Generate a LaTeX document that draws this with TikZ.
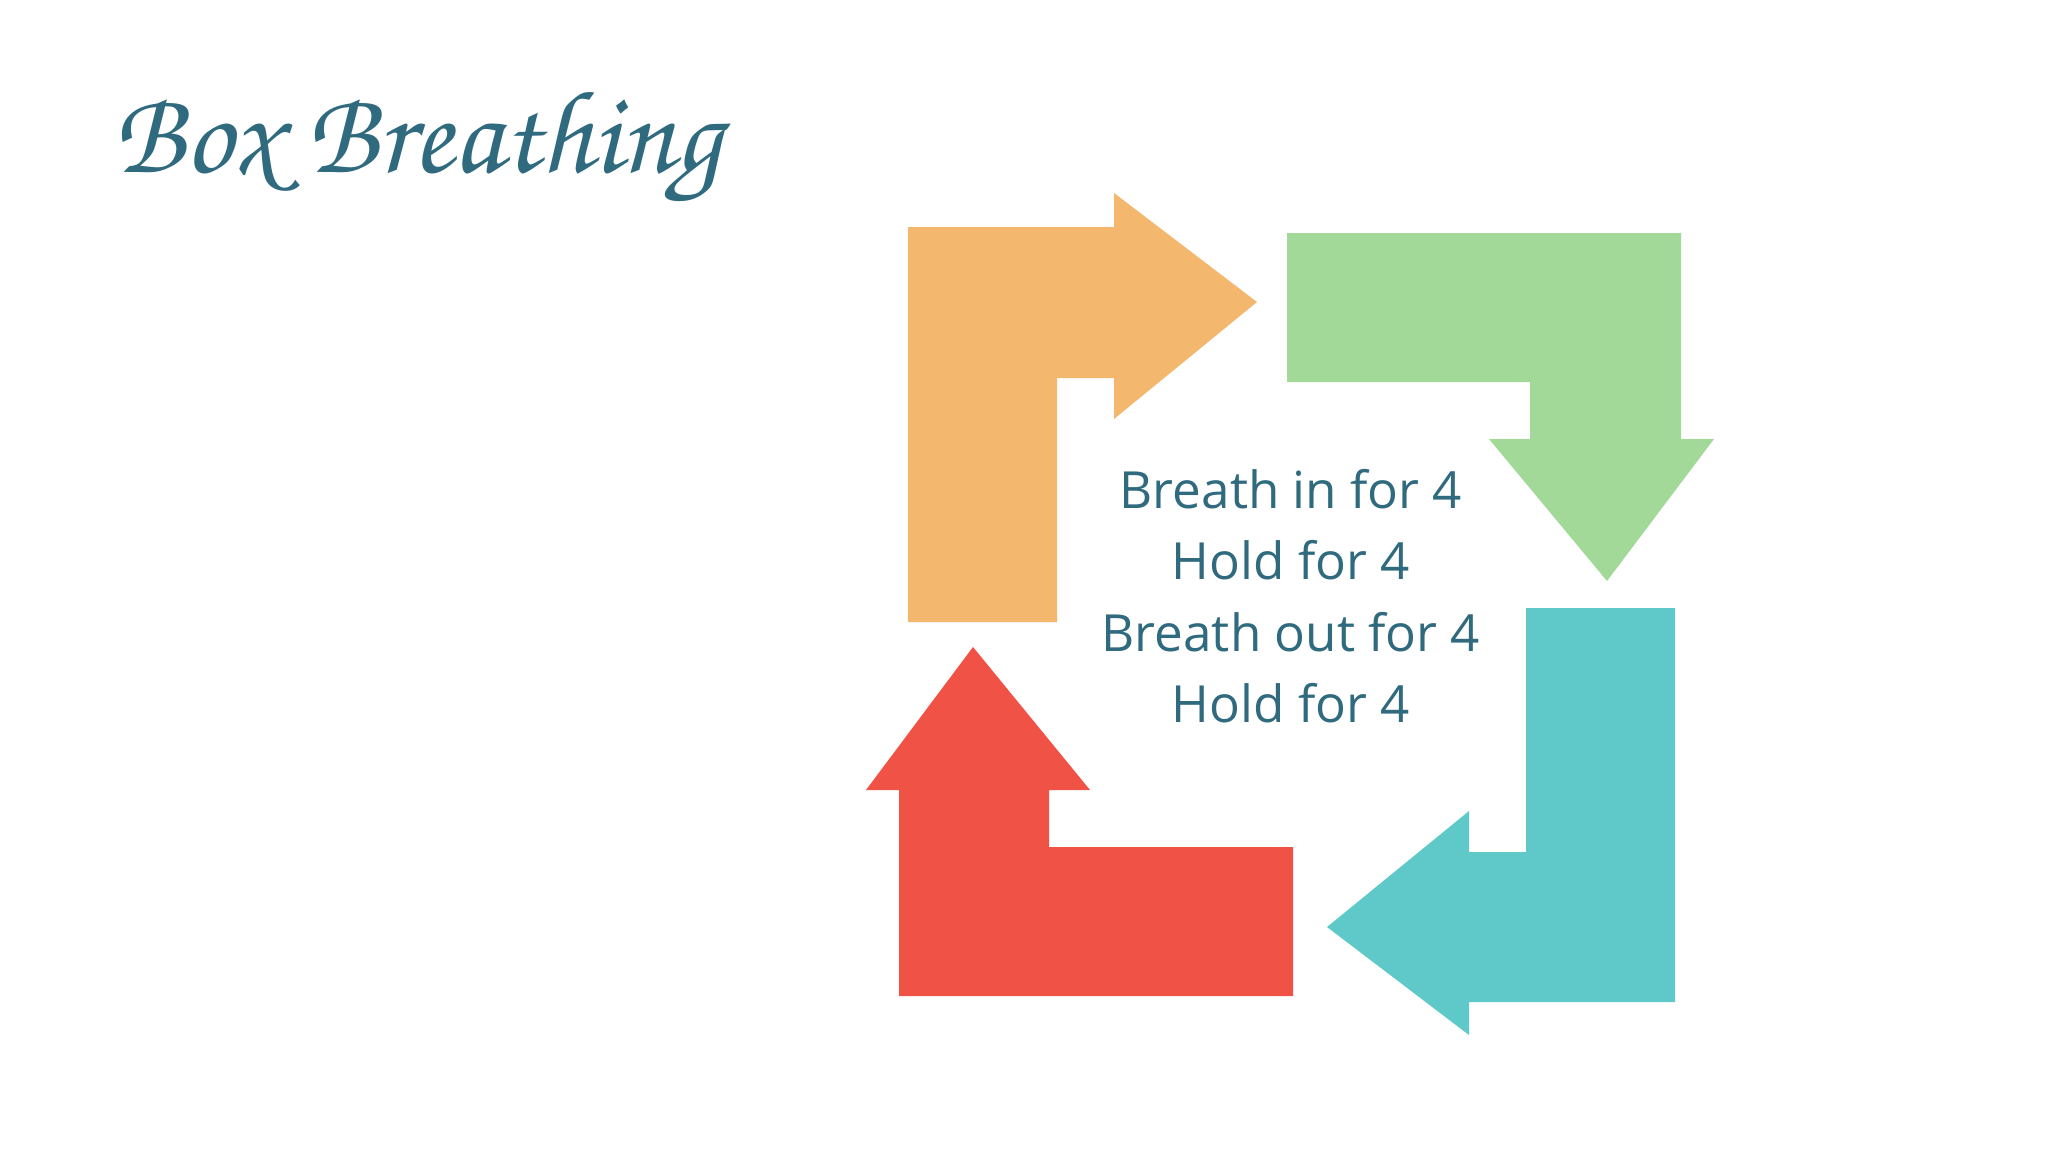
\documentclass[tikz,border=0pt]{standalone}
\usepackage[T1]{fontenc}
\usepackage{fontspec}
\setmainfont{Open Sans}
\definecolor{orangeA}{HTML}{F4B76E}
\definecolor{greenA}{HTML}{A2D898}
\definecolor{tealA}{HTML}{5FC9CA}
\definecolor{redA}{HTML}{F05245}
\definecolor{inkA}{HTML}{2F6A7E}
\tikzset{
  bodytext/.style={text=inkA, inner sep=0pt, anchor=base, font=\fontsize{51.2}{71.2}\selectfont},
  titletext/.style={text=inkA, inner sep=0pt, anchor=base west,
    font=\fontencoding{T1}\fontfamily{pzc}\fontseries{mb}\fontshape{it}\fontsize{118}{128}\selectfont},
}
\begin{document}
\begin{tikzpicture}[x=1pt,y=-1pt]
\useasboundingbox (0,0) rectangle (2048,1152);
\fill[white] (0,0) rectangle (2048,1152);
% orange arrow (right)
\fill[orangeA] (908,227) -- (1114,227) -- (1114,193) -- (1257,302) -- (1114,419) -- (1114,378) -- (1057,378) -- (1057,622) -- (908,622) -- cycle;
% green arrow (down)
\fill[greenA] (1287,233) -- (1681,233) -- (1681,439) -- (1714,439) -- (1607,581) -- (1489,439) -- (1530,439) -- (1530,382) -- (1287,382) -- cycle;
% teal arrow (left)
\fill[tealA] (1526,608) -- (1675,608) -- (1675,1002) -- (1469,1002) -- (1469,1035) -- (1327,927) -- (1469,811) -- (1469,852) -- (1526,852) -- cycle;
% red arrow (up)
\fill[redA] (973,647) -- (1090,790) -- (1049,790) -- (1049,847) -- (1293,847) -- (1293,996) -- (899,996) -- (899,790) -- (866,790) -- cycle;
% text
\node[bodytext] (l1) at (1291,508) {Breath in for 4};
\node[bodytext] (l2) at (1291,579) {Hold for 4};
\node[bodytext] (l3) at (1291,651) {Breath out for 4};
\node[bodytext] (l4) at (1291,722) {Hold for 4};
\node[titletext] (title) at (113,172) {Box Breathing};
\end{tikzpicture}
\end{document}
